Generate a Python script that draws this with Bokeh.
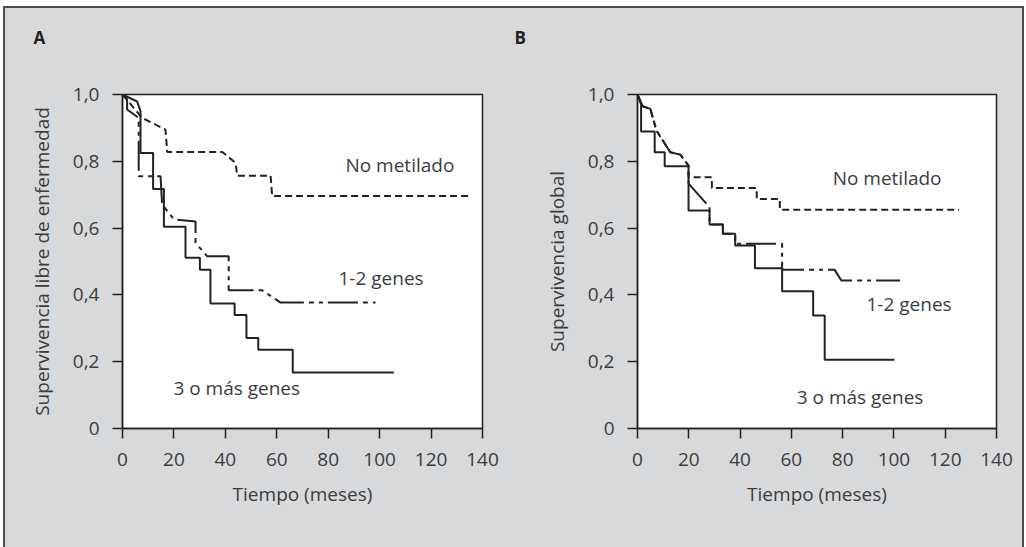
from bokeh.plotting import figure
from bokeh.layouts import row
from bokeh.models import Range1d, FixedTicker, ColumnDataSource
from bokeh.core.properties import value
from bokeh.embed import file_html
from bokeh.resources import INLINE

# ---------------- data ----------------
x_ticks = [0, 20, 40, 60, 80, 100, 120, 140]
y_ticks = [0, 0.2, 0.4, 0.6, 0.8, 1.0]
y_tick_labels = ["0", "0,2", "0,4", "0,6", "0,8", "1,0"]

series_names = ["No metilado", "1-2 genes", "3 o más genes"]

# Panel A: Supervivencia libre de enfermedad
a_nomet_t = [0, 7.6, 16.7, 17.4, 38.8, 44.0, 44.6, 57.6, 58.2, 134.6]
a_nomet_s = [1.0, 0.93, 0.895, 0.828, 0.828, 0.795, 0.757, 0.757, 0.696, 0.696]

a_12_t = [0, 1.8, 1.8, 6.3, 6.3, 14.8, 15.4, 20.0, 28.4, 28.4, 32.9, 41.3, 41.3, 54.3, 61.5, 98.4]
a_12_s = [1.0, 0.985, 0.955, 0.93, 0.755, 0.755, 0.671, 0.626, 0.62, 0.556, 0.516, 0.516, 0.414, 0.414, 0.377, 0.377]

a_3_t = [0, 5.7, 7.0, 7.0, 11.9, 11.9, 16.1, 16.1, 24.5, 24.5, 30.1, 30.1, 34.2, 34.2,
         43.6, 43.6, 48.2, 48.2, 52.8, 52.8, 66.2, 66.2, 105.5]
a_3_s = [1.0, 0.979, 0.95, 0.825, 0.825, 0.717, 0.717, 0.604, 0.604, 0.511, 0.511, 0.475, 0.475, 0.374,
         0.374, 0.340, 0.340, 0.271, 0.271, 0.236, 0.236, 0.168, 0.168]

# Panel B: Supervivencia global
b_nomet_t = [0, 2.0, 5.0, 7.4, 12.8, 16.7, 19.9, 19.9, 29.0, 29.0, 46.5, 46.5, 55.5, 55.5, 125.4]
b_nomet_s = [1.0, 0.965, 0.957, 0.892, 0.827, 0.82, 0.787, 0.752, 0.752, 0.72, 0.72, 0.687, 0.687, 0.655, 0.655]

b_12_t = [0, 2.0, 5.0, 7.4, 12.8, 16.7, 19.9, 19.9, 28.1, 28.1, 33.3, 33.3, 38.1, 38.1, 54.9, 56.4, 56.4, 76.9, 79.5, 102.4]
b_12_s = [1.0, 0.965, 0.957, 0.892, 0.827, 0.82, 0.787, 0.733, 0.663, 0.611, 0.611, 0.583, 0.583, 0.553, 0.553, 0.553, 0.475, 0.475, 0.443, 0.443]

b_3_t = [0, 1.4, 1.4, 6.7, 6.7, 10.6, 10.6, 19.9, 19.9, 28.1, 28.1, 33.3, 33.3, 38.1, 38.1,
         45.8, 45.8, 56.4, 56.4, 68.5, 68.5, 73.0, 73.0, 100.2]
b_3_s = [1.0, 0.97, 0.889, 0.889, 0.827, 0.827, 0.785, 0.785, 0.653, 0.653, 0.611, 0.611, 0.583, 0.583, 0.548,
         0.548, 0.48, 0.48, 0.411, 0.411, 0.338, 0.338, 0.206, 0.206]

# ---------------- styling / positions ----------------
FONT = "Open Sans"
GRAY = "#d8d9db"
INK = "#222222"
TXT = "#3c3c3c"

a_label_pos = [(86.7, 0.79), (84.0, 0.45), (19.8, 0.12)]
b_label_pos = [(76.1, 0.749), (89.3, 0.374), (62.1, 0.093)]

DASHES = ["7 4", "30 5 5 5 4 5", "solid"]


def make_panel(curves, label_pos, ylabel, letter, letter_offset, min_left, frame_w, width):
    p = figure(width=width, height=539, output_backend="svg", toolbar_location=None,
               x_range=Range1d(0, 140), y_range=Range1d(0, 1),
               min_border_left=min_left, min_border_right=width - min_left - frame_w,
               min_border_top=86, min_border_bottom=119,
               title=letter + "\n\n", title_location="above")
    p.background_fill_color = "white"
    p.border_fill_color = GRAY
    p.outline_line_color = INK
    p.outline_line_width = 1.5
    p.xgrid.visible = False
    p.ygrid.visible = False

    p.title.align = "left"
    p.title.offset = letter_offset
    p.title.standoff = 0
    p.title.text_font = FONT
    p.title.text_font_size = "17px"
    p.title.text_font_style = "bold"
    p.title.text_color = "#222222"

    for ax in (p.xaxis[0], p.yaxis[0]):
        ax.axis_line_color = INK
        ax.axis_line_width = 1.5
        ax.major_tick_line_color = INK
        ax.major_tick_line_width = 1.5
        ax.major_tick_out = 10
        ax.major_tick_in = 0
        ax.minor_tick_line_color = None
        ax.major_label_text_font = FONT
        ax.major_label_text_font_size = "19px"
        ax.major_label_text_color = TXT
        ax.axis_label_text_font = FONT
        ax.axis_label_text_font_size = "19px"
        ax.axis_label_text_font_style = "normal"
        ax.axis_label_text_color = TXT

    p.xaxis.ticker = FixedTicker(ticks=x_ticks)
    p.yaxis.ticker = FixedTicker(ticks=y_ticks)
    p.yaxis.major_label_overrides = {t: l for t, l in zip(y_ticks, y_tick_labels)}
    p.xaxis.axis_label = "Tiempo (meses)"
    p.yaxis.axis_label = ylabel
    p.xaxis.major_label_standoff = 14
    p.yaxis.major_label_standoff = 13
    p.xaxis.axis_label_standoff = 12
    p.yaxis.axis_label_standoff = 15

    for (t, s), dash in zip(curves, DASHES):
        p.line(t, s, line_color=INK, line_width=2, line_dash=dash)

    src = ColumnDataSource(dict(x=[q[0] for q in label_pos], y=[q[1] for q in label_pos], txt=series_names))
    p.text(x="x", y="y", text="txt", source=src, text_font=value(FONT), text_font_size="19px",
           text_color=TXT, text_align="left", text_baseline="middle")
    return p


pA = make_panel([(a_nomet_t, a_nomet_s), (a_12_t, a_12_s), (a_3_t, a_3_s)], a_label_pos,
                "Supervivencia libre de enfermedad", "A", -89, 117, 360, 508)
pB = make_panel([(b_nomet_t, b_nomet_s), (b_12_t, b_12_s), (b_3_t, b_3_s)], b_label_pos,
                "Supervivencia global", "B", -123, 124, 359, 509)

layout = row(pA, pB, styles={"border-left": "2px solid #4d4d4d", "border-top": "2px solid #4d4d4d",
                             "border-right": "2px solid #4d4d4d", "margin-left": "3px",
                             "margin-top": "6px", "background-color": GRAY})

open("out.html", "w").write(file_html(layout, INLINE))
